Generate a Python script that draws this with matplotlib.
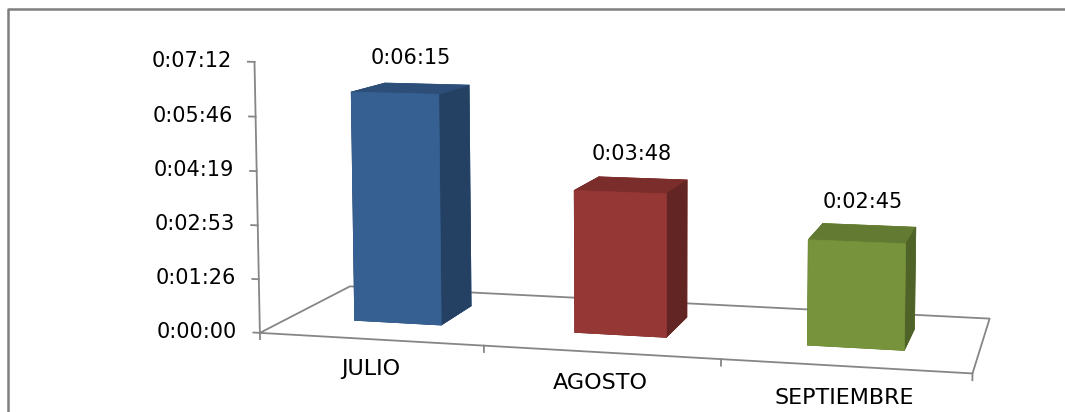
import numpy as np
import matplotlib.pyplot as plt
from matplotlib.lines import Line2D
from matplotlib.transforms import ScaledTranslation
from mpl_toolkits.mplot3d import proj3d

# datos del grafico
meses = ['JULIO', 'AGOSTO', 'SEPTIEMBRE']
tiempos = ['0:06:15', '0:03:48', '0:02:45']
frente = ['#376092', '#953735', '#77933C']
lateral = ['#244062', '#632523', '#4F6228']
tapa = ['#2C4E78', '#7A2D2B', '#627A31']


def a_segundos(t):
    h, m, s = (int(p) for p in t.split(':'))
    return h * 3600 + m * 60 + s


def a_hms(seg):
    seg = int(round(seg))
    return '%d:%02d:%02d' % (seg // 3600, seg % 3600 // 60, seg % 60)


valores = np.array([a_segundos(t) for t in tiempos])
paso = 86.4  # unidad mayor = 0.001 dia
marcas = np.arange(6) * paso
zmax = marcas[-1]

W, H = 1065, 412
fig = plt.figure(figsize=(W / 100, H / 100), dpi=100)
ax = fig.add_axes([0, 0, 1, 1], projection='3d', computed_zorder=False)

# camara (perspectiva tipo excel, vista girada y algo desde arriba)
seg_por_unidad = 373.37
centro = (1.464, 1.102, 1.0226)
medio = (2.5, 1.5, 1.5)
ax.set_xlim(centro[0] - medio[0], centro[0] + medio[0])
ax.set_ylim(centro[1] - medio[1], centro[1] + medio[1])
ax.set_zlim((centro[2] - medio[2]) * seg_por_unidad, (centro[2] + medio[2]) * seg_por_unidad)
ax.set_box_aspect([2 * m for m in medio])
ax.view_init(elev=5.56, azim=-76.57)
ax.set_proj_type('persp', focal_length=0.26024)
ax.set_axis_off()

# escala y posicion del eje en pixeles
escala, px0, py0 = 7522.74, 654.92, 76.87
fig.canvas.draw()
vl = ax.viewLim
lado = escala * vl.width
izq = px0 + vl.x0 * escala
abajo = H - py0 + vl.y0 * escala
ax.set_position([izq / W, abajo / H, lado / W, lado / H])

gris = '#868686'
fuente = 'DejaVu Sans'
M = ax.get_proj()


def texto(x, y, z, s, desplazamiento=None, **kw):
    # texto plano en la posicion proyectada del punto 3d
    u, v, _ = proj3d.proj_transform(x, y, z, M)
    tr = ax.transData if desplazamiento is None else ax.transData + desplazamiento
    return ax.text2D(u, v, s, transform=tr, family=fuente, zorder=3, **kw)


# piso
ax.plot([0, 3, 3, 0, 0], [0, 0, 1, 1, 0], [0, 0, 0, 0, 0], color=gris, lw=1.3, zorder=1)
# eje de valores
ax.plot([0, 0], [0, 0], [-10, zmax], color=gris, lw=1.3, zorder=1)
for t in marcas:
    ax.plot([-0.03, 0], [0, 0], [t, t], color=gris, lw=1.3, zorder=1)
    texto(-0.105, 0, t, a_hms(t), ha='right', va='center', fontsize=15)

# marcas de categorias
for i in range(1, len(meses) + 1):
    ax.plot([i, i], [0, 0], [0, -10], color=gris, lw=1.3, zorder=1)
for i, mes in enumerate(meses):
    texto(i + 0.5, 0, -48, mes, ha='center', va='center', fontsize=16)

# barras
y0, fondo, ancho = 0.32, 0.40, 0.40
arriba = ScaledTranslation(0, 31 / 100, fig.dpi_scale_trans)
for i, v in enumerate(valores):
    colores = [tapa[i], tapa[i], frente[i], frente[i], lateral[i], lateral[i]]
    ax.bar3d(i + 0.5 - ancho / 2, y0, 0, ancho, fondo, v, color=colores, shade=False,
             edgecolor=colores, linewidth=0.5, zorder=2)
    texto(i + 0.5, y0 + fondo / 2, v, tiempos[i], desplazamiento=arriba,
          ha='center', va='center', fontsize=15)

# borde del area del grafico
fig.add_artist(Line2D([7.5 / W, 7.5 / W, 1], [0, 1 - 8.5 / H, 1 - 8.5 / H],
                      transform=fig.transFigure, color='#7f7f7f', lw=1.8))

fig.savefig('out.png', dpi=100)
